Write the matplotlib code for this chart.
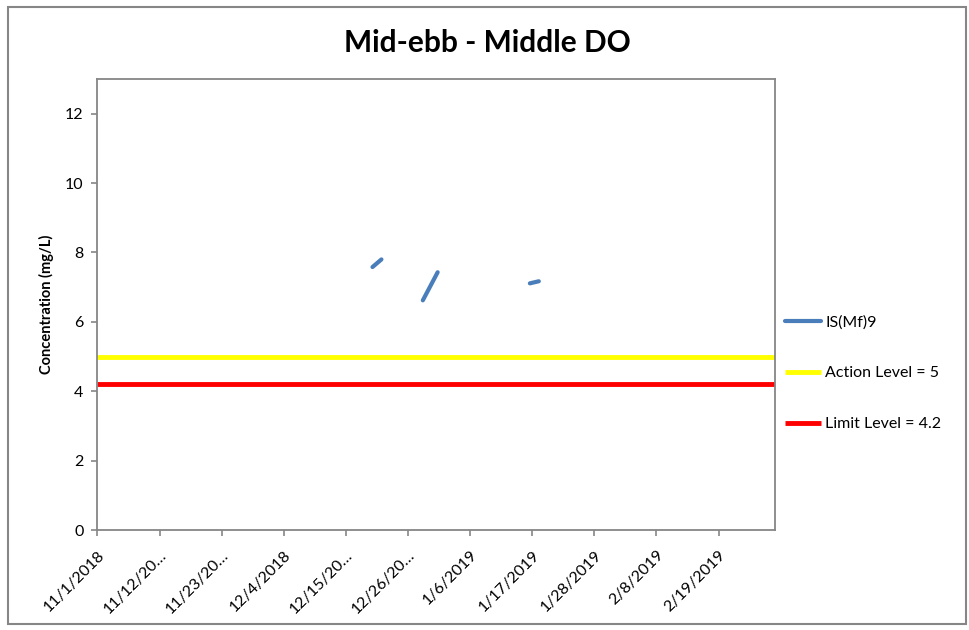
import numpy as np
import pandas as pd
from matplotlib import pyplot as plt
import matplotlib.dates as mdates
from matplotlib.patches import Rectangle

plt.rcParams['font.family'] = ['Lato', 'DejaVu Sans']

#--- data (blank cells in the sheet -> NaN, so the line breaks)
sample_times = ['2018-12-19 17:00', '2018-12-21 07:00', '2018-12-24 12:00',
                '2018-12-28 15:00', '2018-12-31 06:00', '2019-01-09 12:00',
                '2019-01-16 14:00', '2019-01-18 04:00']
is_mf9 = [7.58, 7.80, np.nan, 6.62, 7.43, np.nan, 7.11, 7.17]
action_level = 5
limit_level = 4.2
tick_dates = pd.date_range('2018-11-01', '2019-02-19', freq='11D')
tick_labels = ['11/1/2018', '11/12/20…', '11/23/20…', '12/4/2018', '12/15/20…',
               '12/26/20…', '1/6/2019', '1/17/2019', '1/28/2019', '2/8/2019', '2/19/2019']
x_start = pd.Timestamp('2018-11-01')
x_end = pd.Timestamp('2019-03-01')

t = pd.to_datetime(sample_times)
grey = '#868686'

fig = plt.figure(figsize=(9.69, 6.30), dpi=100)
ax = fig.add_axes([0.1006, 0.1587, 0.6992, 0.7159])

ax.plot(t, is_mf9, color='#4A7EBB', lw=3, solid_capstyle='round', label='IS(Mf)9')
ax.plot([x_start, x_end], [action_level, action_level], color='#FFFF00', lw=3.5,
        solid_capstyle='butt', label='Action Level = 5')
ax.plot([x_start, x_end], [limit_level, limit_level], color='#FF0000', lw=3.5,
        solid_capstyle='butt', label='Limit Level = 4.2')

ax.set_xlim(x_start, x_end)
ax.set_ylim(0, 13)
ax.set_yticks(range(0, 13, 2))
ax.set_xticks(tick_dates)
ax.set_xticklabels(tick_labels, rotation=45, ha='right', rotation_mode='anchor')
ax.tick_params(axis='both', colors=grey, labelcolor='black', labelsize=11.5,
               length=4, width=1.2, direction='out')
ax.tick_params(axis='y', pad=6)
ax.tick_params(axis='x', pad=9)
for s in ax.spines.values():
    s.set_color(grey)
    s.set_linewidth(1.3)

ax.set_ylabel('Concentration (mg/L)', fontsize=10.5, fontweight='bold', labelpad=8)
fig.text(0.5025, 0.931, 'Mid-ebb - Middle DO', ha='center', va='center',
         fontsize=21.5, fontweight='bold')

leg = ax.legend(loc='center left', bbox_to_anchor=(1.0, 0.348), frameon=False,
                fontsize=11.5, handlelength=2.3, handletextpad=0.25, labelspacing=2.3,
                borderaxespad=0.2)

fig.patches.append(Rectangle((8 / 969, 6 / 630), 958 / 969, 617 / 630,
                             transform=fig.transFigure, fill=False,
                             edgecolor=grey, lw=1.5))

fig.savefig('out.png', dpi=100)
